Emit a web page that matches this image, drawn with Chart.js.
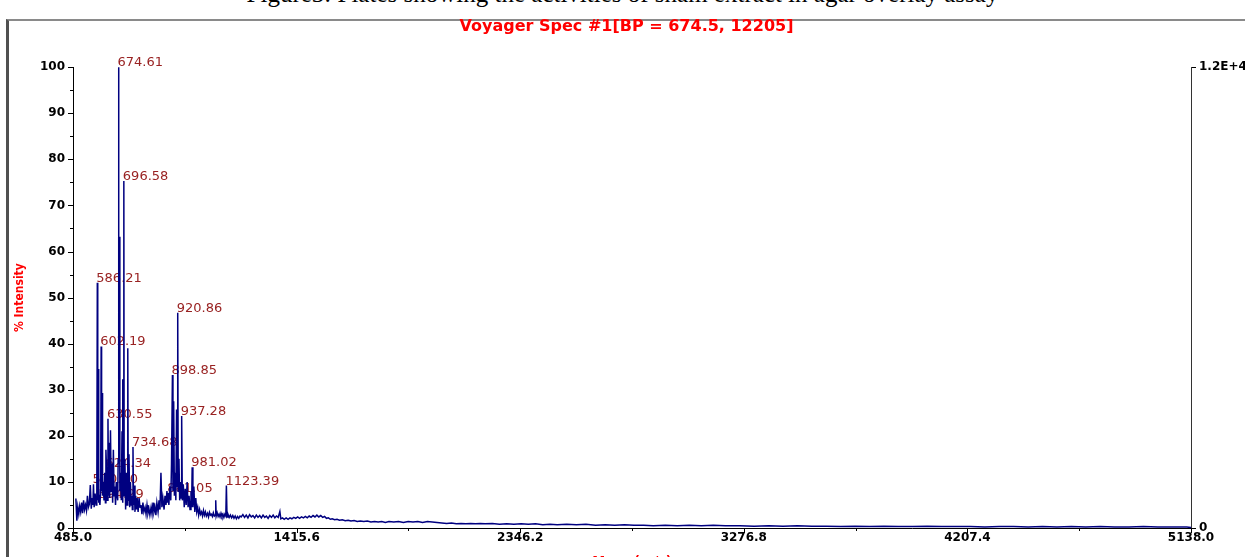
<!DOCTYPE html>
<html><head><meta charset="utf-8">
<script src="https://cdn.jsdelivr.net/npm/chart.js@4.4.1/dist/chart.umd.min.js"></script>
<style>
html,body{margin:0;padding:0;background:#fff;overflow:hidden;width:1245px;height:557px;}
#caption{position:absolute;left:0;width:1245px;top:-19px;text-align:center;font:25px 'Liberation Serif','Times New Roman',serif;line-height:25px;white-space:nowrap;color:#000;}
#frame{position:absolute;left:6px;top:19px;width:1300px;height:600px;border-left:3px solid #505050;border-top:2px solid #8a8a8a;}
#wrap{position:absolute;left:0;top:0;width:1245px;height:580px;}
</style></head><body>
<div id="caption">Figure3: Plates showing the activities of sham extract in agar overlay assay</div>
<div id="frame"></div>
<div id="wrap"><canvas id="c" width="1245" height="580"></canvas></div>
<script>
const titleText = 'Voyager Spec #1[BP = 674.5, 12205]';
const xTitle = 'Mass (m/z)';
const yTitle = '% Intensity';

const massMz = [
 497,501,505,509,513,517,521,525,529,533,
 537,541,545,549,553,557,561,565,568,570.2,
 573,577,581,584,586.21,588,590,592,594.29,597,
 600,602.19,604,606,608,611,614,617,620,622,
 624.34,627,630.55,633,636,638,641,644,647,650,
 653,656,659,662,665,668,671,673,674.61,676,
 678,680,683,686,689,691,693,695,696.58,698,
 701,704,707,710,713,715,718,721,724,727,
 730,732,734.68,737,740,743,746,749,752,756,
 760,764,768,772,776,780,785,789,793,797,
 801,805,810,814,818,822,826,830,834,839,
 843,847,851,855,859,864,868,872,876,879,
 881.05,884,888,892,895,898.85,901,904,907,910,
 913,916,918,920.86,923,926,929,932,935,937.28,
 940,944,948,952,956,960,964,968,972,976,
 978.5,981.02,984,988,992,996,1000,1004,1008,1012,
 1016,1020,1024,1028,1032,1036,1040,1045,1049,1053,
 1057,1061,1065,1069,1073,1077,1079,1081,1085,1089,
 1093,1097,1101,1105,1109,1113,1117,1121,1123.39,1126,
 1130,1135,1140,1145,1150,1155,1160,1165,1170,1175,1180,
 1185,1192,1199,1206,1213,1220,1227,1234,1241,1248,
 1255,1262,1269,1276,1283,1290,1297,1304,1311,1318,
 1325,1332,1339,1346,1350,1357,1364,1372,1380,1388,
 1396,1404,1412,1420,1428,1436,1444,1452,1460,1468,
 1476,1484,1492,1500,1508,1516,1524,1532,1540,1548,
 1556,1564,1574,1584,1594,1606,1618,1630,1642,1655,
 1668,1681,1695,1710,1725,1740,1755,1770,1785,1800,
 1820,1840,1860,1880,1900,1920,1940,1960,1980,2000,
 2020,2040,2060,2080,2100,2120,2140,2160,2180,2200,
 2230,2260,2290,2320,2350,2380,2410,2440,2470,2500,
 2540,2580,2620,2660,2700,2740,2780,2820,2860,2900,
 2950,3000,3050,3100,3150,3200,3260,3320,3380,3440,
 3500,3560,3620,3680,3740,3800,3860,3920,3980,4040,
 4100,4160,4220,4280,4340,4400,4460,4520,4580,4640,
 4700,4760,4820,4880,4940,5000,5060,5120,5138
];
const massIntensity = [
 6.4,1.6,4.5,3.0,4.8,3.5,5.5,3.2,6.0,4.0,
 5.0,3.8,7.0,4.5,5.2,9.3,4.2,6.5,5.0,9.5,
 4.5,7.5,5.0,5.5,53.2,6.0,34.5,5.5,6.3,5.0,
 8.0,39.4,8.0,29.3,7.0,10.0,6.0,12.0,5.5,17.0,
 13.0,6.0,23.7,7.0,18.5,6.5,21.2,8.0,14.0,5.5,
 17.0,7.0,9.0,5.0,10.0,7.0,6.0,15.0,100,14.0,
 63.2,8.0,12.0,6.0,21.0,5.5,32.3,8.0,75.3,7.0,
 15.0,4.0,12.0,5.0,39.0,6.0,16.0,4.5,10.0,5.0,
 7.0,4.0,17.6,5.0,9.2,3.5,7.0,4.0,6.5,3.5,
 6.5,4.5,5.0,3.0,5.5,3.5,4.5,3.0,5.0,3.2,
 4.2,2.8,4.5,3.0,5.5,3.5,4.5,2.8,5.5,3.5,
 6.0,4.0,12.0,4.5,6.5,4.0,7.0,5.0,8.0,5.5,
 7.6,5.0,9.0,6.0,14.0,33.2,8.0,27.5,7.0,12.0,
 6.0,25.7,9.0,46.7,8.0,15.0,6.0,10.0,6.5,24.3,
 6.0,9.5,4.5,8.5,5.0,10.0,4.5,7.0,4.0,8.0,
 4.5,13.2,4.5,9.0,3.5,6.5,3.5,4.5,2.8,4.0,
 3.0,3.5,2.6,3.8,2.8,3.5,2.6,3.2,2.4,3.4,
 2.8,3.0,2.5,3.3,2.6,2.8,6.0,2.6,3.3,2.5,
 3.0,2.4,3.2,2.5,3.0,2.3,3.0,2.6,9.2,2.4,
 3.0,2.3,2.8,2.2,2.7,2.1,2.6,2.0,2.5,2.1,2.6,
 2.4,2.9,2.3,2.8,2.2,2.9,2.4,2.7,2.2,2.8,
 2.3,2.7,2.2,2.8,2.3,2.6,2.1,2.7,2.3,2.8,
 2.2,2.6,2.3,3.6,2.0,2.2,1.9,2.2,1.9,2.2,
 2.0,2.3,2.1,2.4,2.1,2.4,2.2,2.5,2.2,2.6,
 2.3,2.7,2.4,2.8,2.4,2.7,2.3,2.5,2.1,2.2,
 1.9,2.0,1.8,1.9,1.7,1.8,1.6,1.7,1.5,1.6,
 1.4,1.5,1.4,1.5,1.3,1.4,1.3,1.4,1.2,1.4,
 1.3,1.4,1.2,1.4,1.3,1.4,1.2,1.4,1.3,1.2,
 1.1,1.0,1.1,0.9,1.0,0.9,1.0,0.9,1.0,0.9,
 1.0,0.8,0.9,0.8,0.9,0.8,0.9,0.7,0.8,0.7,
 0.8,0.7,0.8,0.6,0.7,0.6,0.7,0.6,0.6,0.5,
 0.6,0.5,0.6,0.5,0.6,0.5,0.5,0.4,0.5,0.4,
 0.5,0.4,0.4,0.3,0.4,0.3,0.4,0.3,0.3,0.4,
 0.3,0.3,0.3,0.2,0.3,0.3,0.2,0.3,0.2,0.3,
 0.2,0.3,0.2,0.2,0.3,0.2,0.2,0.2,0.1
];

const peakLabelMz = [570.2, 586.21, 594.29, 602.19, 624.34, 630.55, 674.61, 696.58, 734.68, 881.05, 898.85, 920.86, 937.28, 981.02, 1123.39];
const peakLabelText = ['570.20','586.21','594.29','602.19','624.34','630.55','674.61','696.58','734.68','881.05','898.85','920.86','937.28','981.02','1123.39'];

const xTickValues = [485.0, 1415.6, 2346.2, 3276.8, 4207.4, 5138.0];
const yTickValues = [0,10,20,30,40,50,60,70,80,90,100];
const basePeakCounts = 12205;
const rightTickLabels = ['0', '1.2E+4'];

const tickMarks = {
  id: 'tickMarks',
  afterDraw(chart) {
    const {ctx, chartArea, scales} = chart;
    const x = scales.x, y = scales.y;
    ctx.save();
    ctx.strokeStyle = '#000';
    ctx.lineWidth = 1;
    ctx.beginPath();
    for (let i = 0; i < yTickValues.length * 2 - 1; i++) {
      const v = yTickValues[0] + i * (yTickValues[1] - yTickValues[0]) / 2;
      const py = Math.round(y.getPixelForValue(v)) + 0.5;
      const len = i % 2 === 0 ? 5 : 3;
      ctx.moveTo(chartArea.left - len, py);
      ctx.lineTo(chartArea.left, py);
    }
    const xs = xTickValues;
    for (let i = 0; i < xs.length * 2 - 1; i++) {
      const v = xs[0] + i * (xs[1] - xs[0]) / 2;
      const px = Math.round(x.getPixelForValue(v)) + 0.5;
      const len = i % 2 === 0 ? 5 : 3;
      ctx.moveTo(px, chartArea.bottom);
      ctx.lineTo(px, chartArea.bottom + len);
    }
    ctx.stroke();
    ctx.restore();
  }
};

const peakLabels = {
  id: 'peakLabels',
  beforeDatasetsDraw(chart) {
    const {ctx, scales} = chart;
    ctx.save();
    ctx.font = '13px "DejaVu Sans"';
    ctx.fillStyle = '#992222';
    ctx.textAlign = 'left';
    ctx.textBaseline = 'alphabetic';
    peakLabelMz.forEach((m, i) => {
      const idx = massMz.indexOf(m);
      const val = massIntensity[idx];
      const px = scales.x.getPixelForValue(m) - 1;
      const py = scales.y.getPixelForValue(val) - 1;
      ctx.fillText(peakLabelText[i], px, py);
    });
    ctx.restore();
  }
};

const tickFont = {family: 'DejaVu Sans', size: 12, weight: 'bold'};

new Chart(document.getElementById('c'), {
  type: 'line',
  data: {
    datasets: [{
      data: massMz.map((m, i) => ({x: m, y: massIntensity[i]})),
      borderColor: '#000080',
      borderWidth: 1.5,
      pointRadius: 0,
      tension: 0,
      fill: false,
      clip: false,
      yAxisID: 'y'
    }]
  },
  options: {
    responsive: false,
    animation: false,
    devicePixelRatio: 1,
    layout: {padding: {left: 8, right: 0, top: 0, bottom: 0}},
    plugins: {
      legend: {display: false},
      tooltip: {enabled: false},
      title: {
        display: true, text: titleText, color: '#ff0000',
        font: {family: 'DejaVu Sans', size: 16, weight: 'bold', lineHeight: 1.2},
        padding: {top: 17, bottom: 31}
      }
    },
    scales: {
      x: {
        type: 'linear', min: 485, max: 5138,
        afterBuildTicks: s => { s.ticks = xTickValues.map(v => ({value: v})); },
        ticks: {callback: v => Number(v).toFixed(1), color: '#000', font: tickFont, padding: 3, maxRotation: 0, autoSkip: false},
        grid: {display: true, drawOnChartArea: false, drawTicks: false},
        border: {display: true, color: '#000', width: 1},
        title: {display: true, text: xTitle, color: '#ff0000', font: {family: 'DejaVu Sans', size: 13, weight: 'bold'}, padding: {top: 0, bottom: 11}},
        afterFit: s => { s.height = 52; }
      },
      y: {
        position: 'left', min: 0, max: 100,
        afterBuildTicks: s => { s.ticks = yTickValues.map(v => ({value: v})); },
        ticks: {color: '#000', font: tickFont, padding: 8},
        grid: {display: true, drawOnChartArea: false, drawTicks: false},
        border: {display: true, color: '#000', width: 1},
        title: {display: true, text: yTitle, color: '#ff0000', font: {family: "'Liberation Sans Narrow', 'DejaVu Sans Condensed', sans-serif", size: 12, weight: 'bold'}, padding: {top: 5, bottom: 0}},
        afterFit: s => { s.width = 65; }
      },
      y2: {
        position: 'right', min: 0, max: basePeakCounts,
        afterBuildTicks: s => { s.ticks = [{value: 0}, {value: basePeakCounts}]; },
        ticks: {callback: v => (v === 0 ? rightTickLabels[0] : rightTickLabels[1]), color: '#000', font: tickFont, padding: 3},
        grid: {display: true, drawOnChartArea: false, drawTicks: true, tickLength: 5, color: '#000'},
        border: {display: true, color: '#333', width: 1},
        afterFit: s => { s.width = 54; }
      }
    }
  },
  plugins: [peakLabels, tickMarks]
});
</script>
</body></html>
